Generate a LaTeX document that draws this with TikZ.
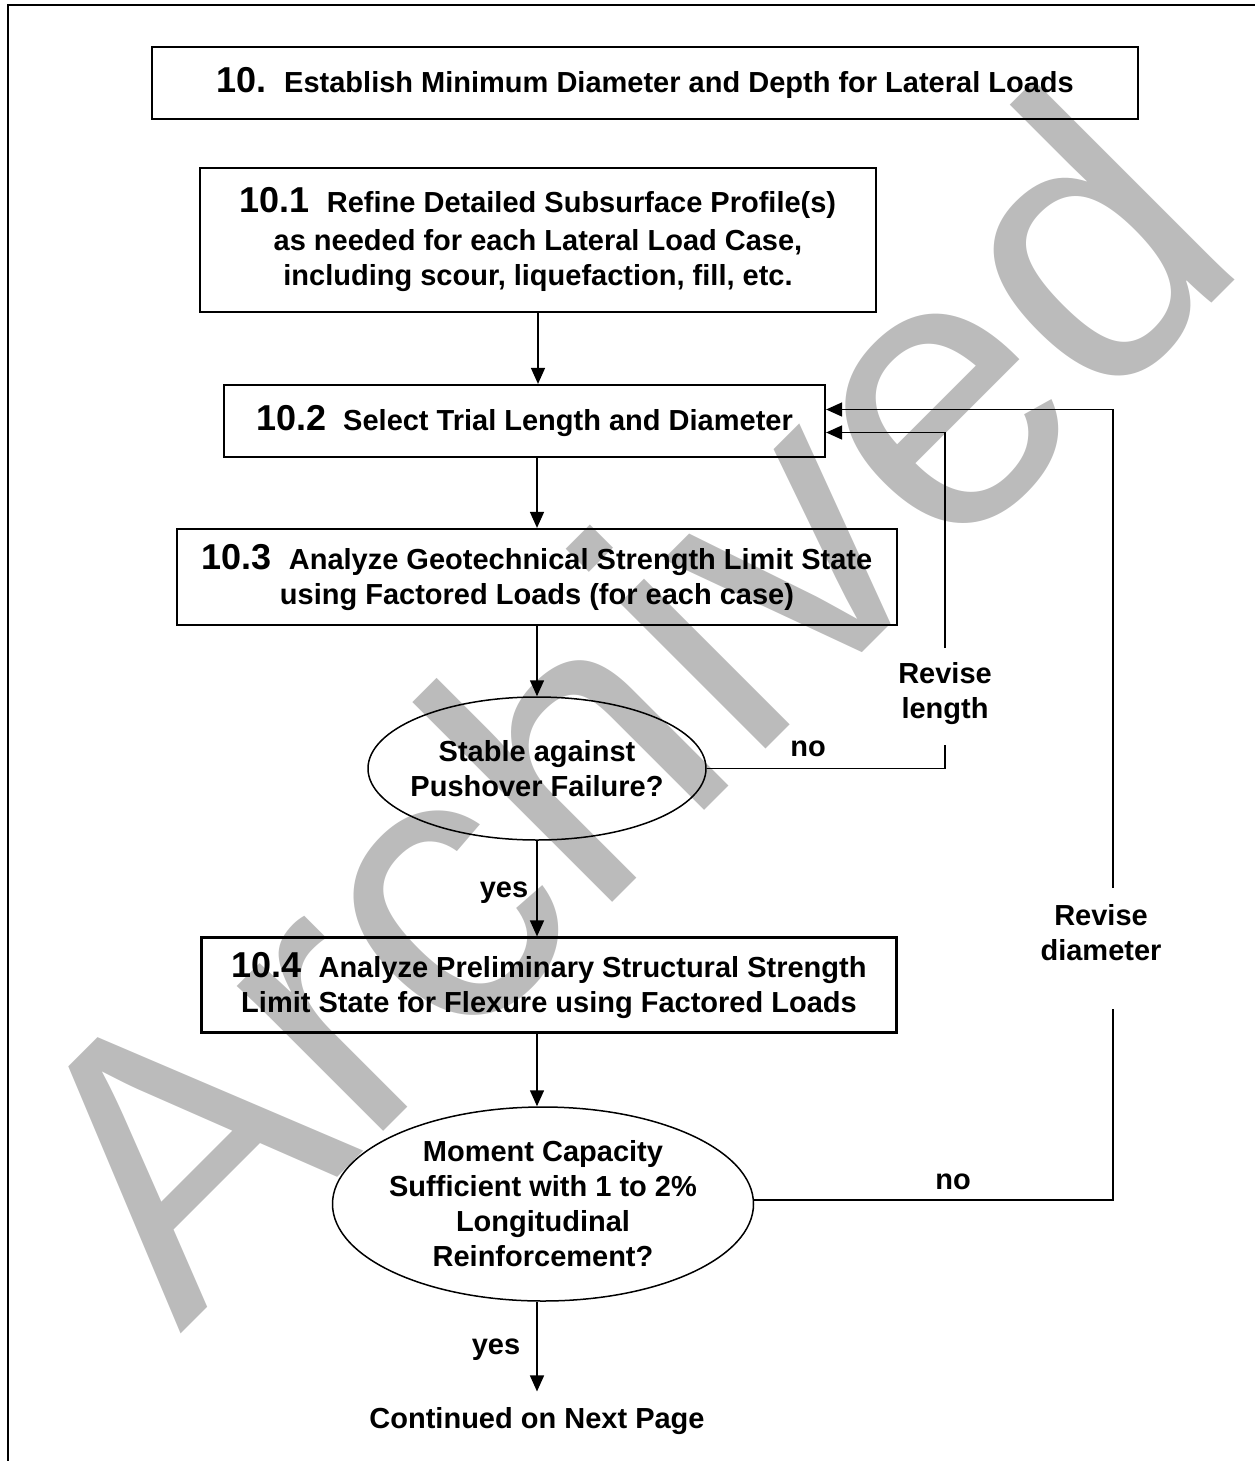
\documentclass[tikz,border=0pt]{standalone}
\usepackage{fontspec}
\setmainfont{Liberation Sans}
\usetikzlibrary{arrows.meta,shapes.geometric,calc}
\definecolor{wmgray}{HTML}{BBBBBB}
\newcommand\bodyfont{\fontsize{29}{35}\selectfont\bfseries}
\newcommand\numfont{\fontsize{36}{40}\selectfont\bfseries}
\begin{document}
\begin{tikzpicture}[x=1pt,y=-1pt,
  box/.style={draw, line width=2.2pt, inner sep=0pt, align=center, font=\bodyfont},
  ell/.style={draw, ellipse, line width=1.5pt, inner sep=0pt},
  lbl/.style={inner sep=0pt, align=center, font=\bodyfont},
  conn/.style={line width=1.5pt},
  arr/.style={conn, -{Triangle[length=16pt,width=14pt]}}]
\useasboundingbox (0,0) rectangle (1255,1461);
% watermark
\node[rotate=45, anchor=base west, inner sep=0pt, text=wmgray,
      font=\fontsize{390}{390}\selectfont] (wmk) at (180,1335) {Archived};
% outer frame
\draw[line width=2pt] (7.5,1461) -- (7.5,5) -- (1255,5);
% boxes
\node[box, minimum width=986pt, minimum height=72pt] (b0) at (645,83)
  {{\numfont 10.}\hspace{18pt}Establish Minimum Diameter and Depth for Lateral Loads};
\node[box, minimum width=676pt, minimum height=144pt] (b1) at (538,240)
  {{\numfont 10.1}\hspace{17pt}Refine Detailed Subsurface Profile(s)\\[3pt]
   as needed for each Lateral Load Case,\\including scour, liquefaction, fill, etc.};
\node[box, minimum width=601pt, minimum height=72pt] (b2) at (524.5,421)
  {{\numfont 10.2}\hspace{17pt}Select Trial Length and Diameter};
\node[box, minimum width=720pt, minimum height=96pt] (b3) at (537,577)
  {{\numfont 10.3}\hspace{17pt}Analyze Geotechnical Strength Limit State\\
   using Factored Loads (for each case)};
\node[ell, minimum width=338pt, minimum height=143pt] (e1) at (537,768.5) {};
\node[lbl] (e1t) at (e1.center) {Stable against\\Pushover Failure?};
\node[box, minimum width=695pt, minimum height=95pt] (b4) at (549,985)
  {{\numfont 10.4}\hspace{17pt}Analyze Preliminary Structural Strength\\
   Limit State for Flexure using Factored Loads};
\node[ell, minimum width=421pt, minimum height=194pt] (e2) at (543,1204) {};
\node[lbl] (e2t) at (e2.center) {Moment Capacity\\Sufficient with 1 to 2\%\\Longitudinal\\Reinforcement?};
\node[lbl, outer ysep=16pt] (cont) at (537,1421) {Continued on Next Page};
% labels
\node[lbl] (yes1) at (504,893) {yes};
\node[lbl] (yes2) at (496,1350) {yes};
\node[lbl] (no1) at (808,749) {no};
\node[lbl] (no2) at (953,1182) {no};
\node[lbl] (rl) at (945,694) {Revise\\length};
\node[lbl] (rd) at (1101,933) {Revise\\diameter};
% loop coordinates
\coordinate (c1) at (945,768.5);
\coordinate (g1t) at (945,648);
\coordinate (g1b) at (945,745);
\coordinate (c2) at (1113,1200);
\coordinate (g2t) at (1113,888);
\coordinate (g2b) at (1113,1009);
% main flow
\draw[arr] (b1.south) -- (b1.south |- b2.north);
\draw[arr] (b3.north |- b2.south) -- (b3.north);
\draw[arr] (b3.south) -- (e1.north);
\draw[arr] (e1.south) -- (e1.south |- b4.north);
\draw[arr] (e1.south |- b4.south) -- (e1.south |- e2.north);
\draw[arr] (e1.south |- e2.south) -- (cont.north);
% revise length loop
\draw[conn] (e1.east) -- (c1) -- (g1b);
\draw[arr] (g1t) |- ([yshift=-11.5pt]b2.east);
% revise diameter loop
\draw[conn] (e2.east |- c2) -- (c2) -- (g2b);
\draw[arr] (g2t) |- ([yshift=11.5pt]b2.east);
\end{tikzpicture}
\end{document}
